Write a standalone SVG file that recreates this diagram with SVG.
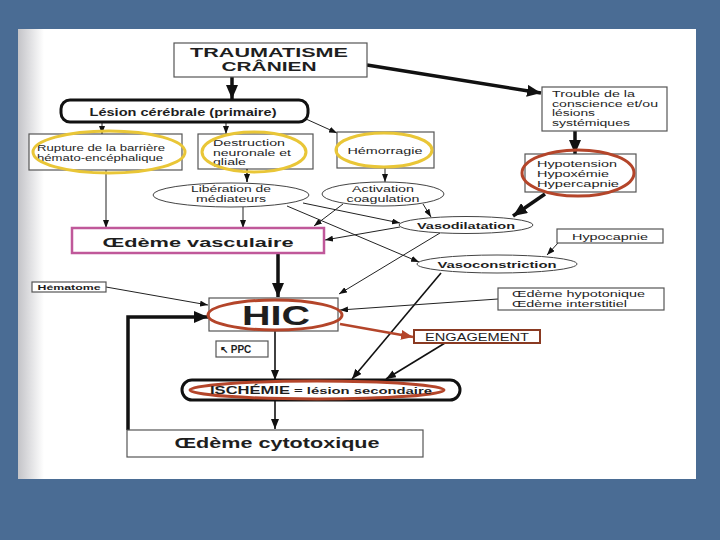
<svg xmlns="http://www.w3.org/2000/svg" width="720" height="540" viewBox="0 0 720 540">
<defs>
<style>
text{font-family:"Liberation Sans",Arial,sans-serif;fill:#1e1e1e}
.b{font-weight:bold}
.box{fill:#fff;stroke:#555;stroke-width:1.2}
.ell{fill:#fff;stroke:#444;stroke-width:1}
.thin{fill:none;stroke:#222;stroke-width:1}
.med{fill:none;stroke:#111;stroke-width:1.6}
.thick{fill:none;stroke:#111;stroke-width:3.5}
.yel{fill:none;stroke:#e9c637;stroke-width:3}
.red{fill:none;stroke:#b4452a;stroke-width:3}
</style>
<marker id="ah" viewBox="0 0 8 6" refX="8" refY="3" markerWidth="8" markerHeight="6" markerUnits="userSpaceOnUse" orient="auto"><path d="M0,0L8,3L0,6z" fill="#111"/></marker>
<marker id="ahm" viewBox="0 0 10 8" refX="10" refY="4" markerWidth="10" markerHeight="8" markerUnits="userSpaceOnUse" orient="auto"><path d="M0,0L10,4L0,8z" fill="#111"/></marker>
<marker id="ahT" viewBox="0 0 14 12" refX="14" refY="6" markerWidth="14" markerHeight="12" markerUnits="userSpaceOnUse" orient="auto"><path d="M0,0L14,6L0,12z" fill="#111"/></marker>
<marker id="ahR" viewBox="0 0 12 10" refX="12" refY="5" markerWidth="12" markerHeight="10" markerUnits="userSpaceOnUse" orient="auto"><path d="M0,0L12,5L0,10z" fill="#b4452a"/></marker>
<linearGradient id="shade" x1="0" y1="0" x2="1" y2="0">
<stop offset="0" stop-color="#c4c4c8"/><stop offset="1" stop-color="#ffffff"/>
</linearGradient>
</defs>
<rect x="0" y="0" width="720" height="540" fill="#4a6c94"/>
<rect x="18" y="29" width="678" height="450" fill="#fff"/>
<rect x="18" y="29" width="26" height="450" fill="url(#shade)"/>

<g id="connectors">
<path class="thick" d="M232,77V99" marker-end="url(#ahT)"/>
<path class="thick" d="M367,65L541,93" marker-end="url(#ahT)"/>
<path class="thin" d="M102,122V134" marker-end="url(#ah)"/>
<path class="thin" d="M226,122V134" marker-end="url(#ah)"/>
<path class="thin" d="M306,119L337,133" marker-end="url(#ah)"/>
<path class="thick" d="M575,131V154" marker-end="url(#ahT)"/>
<path class="thick" d="M545,194L513,216" marker-end="url(#ahT)"/>
<path class="thin" d="M385,168V182" marker-end="url(#ah)"/>
<path class="med" d="M247,169V182" marker-end="url(#ah)"/>
<path class="thin" d="M106,170V228" marker-end="url(#ah)"/>
<path class="thin" d="M243,207V228" marker-end="url(#ah)"/>
<path class="thin" d="M343,204L314,226" marker-end="url(#ah)"/>
<path class="thin" d="M423,204L431,217" marker-end="url(#ah)"/>
<path class="thin" d="M303,203L400,223" marker-end="url(#ah)"/>
<path class="thin" d="M287,206L419,262" marker-end="url(#ah)"/>
<path class="thin" d="M400,227L325,240" marker-end="url(#ah)"/>
<path class="thin" d="M440,233L339,294" marker-end="url(#ah)"/>
<path class="thin" d="M558,243L547,255" marker-end="url(#ah)"/>
<path class="med" d="M441,273L352,379" marker-end="url(#ahm)"/>
<path class="thin" d="M498,299L340,310" marker-end="url(#ah)"/>
<path d="M340,324L413,337" fill="none" stroke="#b4452a" stroke-width="2.5" marker-end="url(#ahR)"/>
<path class="med" d="M445,343L386,379" marker-end="url(#ahm)"/>
<path class="thin" d="M106,287L208,305" marker-end="url(#ah)"/>
<path class="thick" d="M278,253V297" stroke-width="2.5" marker-end="url(#ahT)"/>
<path class="med" d="M275,331V380" marker-end="url(#ahm)"/>
<path class="med" d="M275,400V429" marker-end="url(#ahm)"/>
<path class="thick" d="M128,430V317H208" stroke-width="3" marker-end="url(#ahT)"/>
</g>

<g id="traumatisme">
<rect class="box" x="174" y="43" width="193" height="34"/>
<text class="b" x="269" y="57" font-size="13" text-anchor="middle" textLength="158" lengthAdjust="spacingAndGlyphs">TRAUMATISME</text>
<text class="b" x="269" y="71" font-size="13" text-anchor="middle" textLength="95" lengthAdjust="spacingAndGlyphs">CRÂNIEN</text>
</g>

<g id="lesion">
<rect x="61" y="100" width="247" height="22" rx="9" fill="#fff" stroke="#111" stroke-width="3"/>
<text class="b" x="183" y="116" font-size="11" text-anchor="middle" textLength="187" lengthAdjust="spacingAndGlyphs">Lésion cérébrale (primaire)</text>
</g>

<g id="trouble">
<rect class="box" x="542" y="87" width="125" height="44"/>
<text x="552" y="97" font-size="8.5" textLength="83" lengthAdjust="spacingAndGlyphs">Trouble de la</text>
<text x="552" y="106.5" font-size="8.5" textLength="106" lengthAdjust="spacingAndGlyphs">conscience et/ou</text>
<text x="552" y="116" font-size="8.5" textLength="43" lengthAdjust="spacingAndGlyphs">lésions</text>
<text x="552" y="125.5" font-size="8.5" textLength="78" lengthAdjust="spacingAndGlyphs">systémiques</text>
</g>

<g id="rupture">
<rect class="box" x="29" y="134" width="153" height="36"/>
<text x="37" y="151" font-size="9" textLength="128" lengthAdjust="spacingAndGlyphs">Rupture de la barrière</text>
<text x="37" y="161" font-size="9" textLength="126" lengthAdjust="spacingAndGlyphs">hémato-encéphalique</text>
<ellipse class="yel" cx="109" cy="152" rx="76" ry="21"/>
</g>

<g id="destruction">
<rect class="box" x="198" y="134" width="115" height="35"/>
<text x="213" y="146" font-size="8.5" textLength="72" lengthAdjust="spacingAndGlyphs">Destruction</text>
<text x="213" y="155.5" font-size="8.5" textLength="78" lengthAdjust="spacingAndGlyphs">neuronale et</text>
<text x="213" y="165" font-size="8.5" textLength="33" lengthAdjust="spacingAndGlyphs">gliale</text>
<ellipse class="yel" cx="254" cy="152" rx="52" ry="20"/>
</g>

<g id="hemorragie">
<rect class="box" x="337" y="132" width="97" height="36"/>
<text x="385" y="154" font-size="9.5" text-anchor="middle" textLength="75" lengthAdjust="spacingAndGlyphs">Hémorragie</text>
<ellipse class="yel" cx="384" cy="150" rx="48" ry="17"/>
</g>

<g id="hypotension">
<rect class="box" x="525" y="154" width="111" height="38"/>
<text x="537" y="167" font-size="9" textLength="80" lengthAdjust="spacingAndGlyphs">Hypotension</text>
<text x="537" y="177" font-size="9" textLength="72" lengthAdjust="spacingAndGlyphs">Hypoxémie</text>
<text x="537" y="187" font-size="9" textLength="82" lengthAdjust="spacingAndGlyphs">Hypercapnie</text>
<ellipse class="red" cx="578" cy="173" rx="56" ry="23"/>
</g>

<g id="liberation">
<ellipse class="ell" cx="231" cy="195" rx="78" ry="12"/>
<text x="231" y="192" font-size="8.5" text-anchor="middle" textLength="80" lengthAdjust="spacingAndGlyphs">Libération de</text>
<text x="231" y="202" font-size="8.5" text-anchor="middle" textLength="70" lengthAdjust="spacingAndGlyphs">médiateurs</text>
</g>

<g id="activation">
<ellipse class="ell" cx="383" cy="194" rx="61" ry="12"/>
<text x="383" y="192" font-size="8.5" text-anchor="middle" textLength="62" lengthAdjust="spacingAndGlyphs">Activation</text>
<text x="383" y="202" font-size="8.5" text-anchor="middle" textLength="73" lengthAdjust="spacingAndGlyphs">coagulation</text>
</g>

<g id="vasodilatation">
<ellipse class="ell" cx="466" cy="225" rx="67" ry="8.5"/>
<text class="b" x="466" y="229" font-size="9.5" text-anchor="middle" textLength="98" lengthAdjust="spacingAndGlyphs">Vasodilatation</text>
</g>

<g id="hypocapnie">
<rect class="box" x="557" y="229" width="106" height="14"/>
<text x="610" y="240" font-size="9.5" text-anchor="middle" textLength="76" lengthAdjust="spacingAndGlyphs">Hypocapnie</text>
</g>

<g id="oedeme-vasculaire">
<rect x="72" y="228" width="252" height="25" fill="#fff" stroke="#c0589a" stroke-width="2.5"/>
<text class="b" x="198" y="247" font-size="13.5" text-anchor="middle" textLength="191" lengthAdjust="spacingAndGlyphs">Œdème vasculaire</text>
</g>

<g id="vasoconstriction">
<ellipse class="ell" cx="497" cy="264" rx="80" ry="9"/>
<text class="b" x="497" y="268" font-size="9.5" text-anchor="middle" textLength="119" lengthAdjust="spacingAndGlyphs">Vasoconstriction</text>
</g>

<g id="hematome">
<rect class="box" x="32" y="282" width="74" height="10"/>
<text class="b" x="69" y="290" font-size="8" text-anchor="middle" textLength="63" lengthAdjust="spacingAndGlyphs">Hématome</text>
</g>

<g id="oedeme-hypotonique">
<rect class="box" x="498" y="288" width="166" height="22"/>
<text x="512" y="297" font-size="8.5" textLength="133" lengthAdjust="spacingAndGlyphs">Œdème hypotonique</text>
<text x="512" y="307" font-size="8.5" textLength="115" lengthAdjust="spacingAndGlyphs">Œdème interstitiel</text>
</g>

<g id="hic">
<rect class="box" x="209" y="298" width="129" height="33"/>
<text class="b" x="276" y="325" font-size="28" text-anchor="middle" textLength="68" lengthAdjust="spacingAndGlyphs">HIC</text>
<ellipse class="red" cx="275" cy="315" rx="67" ry="15"/>
</g>

<g id="engagement">
<rect x="414" y="330" width="126" height="13" fill="#fff" stroke="#8a3a22" stroke-width="2"/>
<text x="477" y="340.5" font-size="10" text-anchor="middle" textLength="104" lengthAdjust="spacingAndGlyphs">ENGAGEMENT</text>
</g>

<g id="ppc">
<rect class="box" x="216" y="341" width="52" height="16"/>
<text class="b" x="220" y="353" font-size="10">↖ PPC</text>
</g>

<g id="ischemie">
<rect x="182" y="380" width="278" height="20" rx="10" fill="#fff" stroke="#111" stroke-width="3"/>
<ellipse class="red" cx="317" cy="390" rx="127" ry="9"/>
<text class="b" x="210" y="394" font-size="9" textLength="80" lengthAdjust="spacingAndGlyphs" font-size-adjust="none"><tspan font-size="11">ISCHÉMIE</tspan></text>
<text class="b" x="294" y="394" font-size="9" textLength="138" lengthAdjust="spacingAndGlyphs">= lésion secondaire</text>
</g>

<g id="oedeme-cytotoxique">
<rect class="box" x="127" y="430" width="296" height="27"/>
<text class="b" x="277" y="448" font-size="14" text-anchor="middle" textLength="205" lengthAdjust="spacingAndGlyphs">Œdème cytotoxique</text>
</g>
</svg>
